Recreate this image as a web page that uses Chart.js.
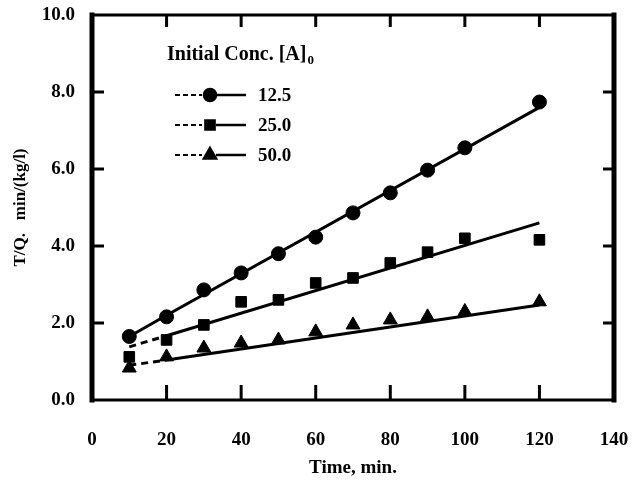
<!DOCTYPE html>
<html>
<head>
<meta charset="utf-8">
<script src="https://cdn.jsdelivr.net/npm/chart.js@4.4.1/dist/chart.umd.min.js"></script>
<style>
  html, body { margin: 0; padding: 0; background: #fff; }
  #wrap { width: 632px; height: 488px; }
</style>
</head>
<body>
<div id="wrap"><canvas id="chart"></canvas></div>
<script>
// measured points, T/Q vs time for each initial concentration
const times = [10, 20, 30, 40, 50, 60, 70, 80, 90, 100, 120];
const conc125 = [1.65, 2.16, 2.86, 3.3, 3.8, 4.23, 4.86, 5.38, 5.97, 6.55, 7.74];
const conc250 = [1.12, 1.56, 1.95, 2.55, 2.6, 3.04, 3.17, 3.56, 3.84, 4.2, 4.16];
const conc500 = [0.83, 1.12, 1.35, 1.48, 1.56, 1.77, 1.95, 2.08, 2.16, 2.3, 2.55];

// fitted straight lines (ends)
const fitTimes = [10, 20, 120];
const fit125 = [1.65, 2.2, 7.6];
const fit250 = [1.38, 1.67, 4.6];
const fit500 = [0.9, 1.04, 2.47];

const legendTitle = "Initial Conc. [A]";
const legendLabels = ["12.5", "25.0", "50.0"];
const pointStyles = ["circle", "rect", "triangle"];
const pointRadius = [7, 7.5, 8];
const xTicks = [0, 20, 40, 60, 80, 100, 120, 140];
const yTicks = [0, 2, 4, 6, 8, 10];

const FONT = "'Liberation Serif', 'Times New Roman', serif";
Chart.defaults.font.family = FONT;
Chart.defaults.font.weight = "bold";
Chart.defaults.color = "#000";

const toXY = (xs, ys) => xs.map((x, i) => ({x: x, y: ys[i]}));

function pointSet(values, i) {
  return {
    data: toXY(times, values),
    showLine: false,
    pointStyle: pointStyles[i],
    pointRadius: pointRadius[i],
    backgroundColor: "#000",
    borderColor: "#000",
    borderWidth: 1,
  };
}

function fitSet(values, dashedStart) {
  return {
    data: toXY(fitTimes, values),
    showLine: true,
    pointRadius: 0,
    borderColor: "#000",
    borderWidth: 3,
    segment: {
      borderDash: ctx => (dashedStart && ctx.p0DataIndex === 0) ? [7, 5] : undefined,
    },
  };
}

function seg(ctx, x1, y1, x2, y2, w) {
  ctx.lineWidth = w;
  ctx.beginPath();
  ctx.moveTo(x1, y1);
  ctx.lineTo(x2, y2);
  ctx.stroke();
}

// frame, inward ticks and the legend inside the plot
const framePlugin = {
  id: "frame",
  afterDatasetsDraw(chart) {
    const {ctx, chartArea: a, scales} = chart;
    ctx.save();
    ctx.strokeStyle = "#000";
    ctx.fillStyle = "#000";
    ctx.lineCap = "square";
    seg(ctx, a.left, a.top, a.left, a.bottom, 5);
    seg(ctx, a.right, a.top, a.right, a.bottom, 5);
    seg(ctx, a.left, a.bottom, a.right, a.bottom, 3);
    seg(ctx, a.left, a.top, a.right, a.top, 3);
    ctx.lineCap = "butt";
    xTicks.slice(1, -1).forEach(v => {
      const px = scales.x.getPixelForValue(v);
      seg(ctx, px, a.bottom, px, a.bottom - 15, 3);
      seg(ctx, px, a.top, px, a.top + 12, 3);
    });
    yTicks.slice(1, -1).forEach(v => {
      const py = scales.y.getPixelForValue(v);
      seg(ctx, a.left, py, a.left + 12, py, 3);
      seg(ctx, a.right, py, a.right - 11, py, 3);
    });

    // legend
    ctx.textBaseline = "alphabetic";
    ctx.textAlign = "left";
    ctx.font = "bold 20px " + FONT;
    ctx.fillText(legendTitle, 167, 60);
    const tw = ctx.measureText(legendTitle).width;
    ctx.font = "bold 13px " + FONT;
    ctx.fillText("0", 167 + tw + 1, 64);

    ctx.textBaseline = "middle";
    ctx.font = "bold 19px " + FONT;
    legendLabels.forEach((lab, i) => {
      const ly = 95 + i * 30;
      ctx.setLineDash([5, 3]);
      seg(ctx, 175, ly, 202, ly, 2);
      ctx.setLineDash([]);
      seg(ctx, 216, ly, 246, ly, 2.5);
      Chart.helpers.drawPoint(ctx, {
        pointStyle: pointStyles[i],
        radius: pointRadius[i] - 1,
        borderWidth: 1,
        rotation: 0,
      }, 210, ly);
      ctx.fillText(lab, 258, ly + 1);
    });
    ctx.restore();
  }
};

new Chart(document.getElementById("chart"), {
  type: "scatter",
  data: {
    datasets: [
      pointSet(conc125, 0),
      pointSet(conc250, 1),
      pointSet(conc500, 2),
      fitSet(fit125, false),
      fitSet(fit250, true),
      fitSet(fit500, true),
    ],
  },
  options: {
    responsive: true,
    maintainAspectRatio: false,
    animation: false,
    events: [],
    layout: { padding: { top: 15, right: 18, left: 0, bottom: 0 } },
    plugins: {
      legend: { display: false },
      tooltip: { enabled: false },
    },
    scales: {
      x: {
        type: "linear",
        min: 0,
        max: 140,
        afterFit: s => { s.height = 88; s.paddingLeft = 0; s.paddingRight = 0; },
        afterBuildTicks: s => { s.ticks = xTicks.map(v => ({value: v})); },
        grid: { display: false, drawTicks: false },
        border: { display: false },
        ticks: {
          padding: 29,
          font: { size: 19, weight: "bold" },
          maxRotation: 0,
          callback: v => String(v),
        },
        title: {
          display: true,
          text: "Time, min.",
          font: { size: 19, weight: "bold" },
          padding: { top: 4, bottom: 9 },
        },
      },
      y: {
        min: 0,
        max: 10,
        afterFit: s => { s.width = 92; s.paddingTop = 0; s.paddingBottom = 0; },
        afterBuildTicks: s => { s.ticks = yTicks.map(v => ({value: v})); },
        grid: { display: false, drawTicks: false },
        border: { display: false },
        ticks: {
          padding: 17,
          font: { size: 19, weight: "bold" },
          callback: v => v.toFixed(1),
        },
        title: {
          display: true,
          text: "T/Q.   min/(kg/l)",
          font: { size: 17, weight: "bold" },
          padding: { top: 10, bottom: 0 },
        },
      },
    },
  },
  plugins: [framePlugin],
});
</script>
</body>
</html>
